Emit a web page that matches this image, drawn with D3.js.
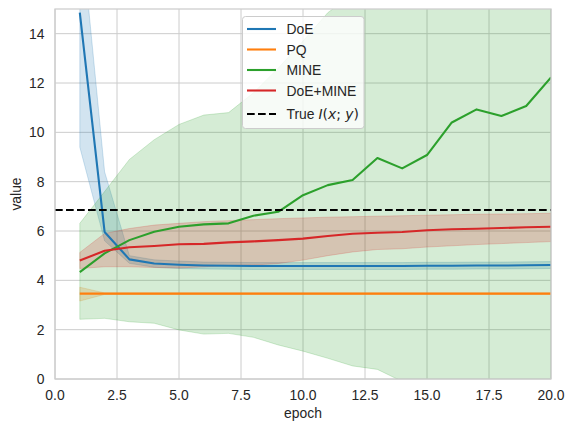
<!DOCTYPE html>
<html>
<head>
<meta charset="utf-8">
<script src="https://cdn.jsdelivr.net/npm/d3@7"></script>
<style>
  body { margin: 0; background: #fff; }
  svg text { font-family: "Liberation Sans", Arial, sans-serif; fill: #262626; }
</style>
</head>
<body>
<div id="chart"></div>
<script>
// epochs 1..20
const epochs = d3.range(1, 21);

const doeMean = [14.85, 5.96, 4.85, 4.68, 4.63, 4.60, 4.59, 4.58, 4.58, 4.58, 4.58, 4.58, 4.58, 4.58, 4.59, 4.59, 4.60, 4.60, 4.61, 4.62];
const doeLow  = [9.40, 5.60, 4.69, 4.53, 4.48, 4.46, 4.45, 4.44, 4.44, 4.44, 4.44, 4.44, 4.44, 4.44, 4.45, 4.45, 4.46, 4.46, 4.47, 4.48];
const doeHigh = [18.7, 8.40, 5.00, 4.83, 4.78, 4.74, 4.73, 4.72, 4.72, 4.72, 4.72, 4.72, 4.72, 4.72, 4.73, 4.73, 4.74, 4.74, 4.75, 4.76];

const pqMean = [3.46, 3.46, 3.46, 3.46, 3.46, 3.46, 3.46, 3.46, 3.46, 3.46, 3.46, 3.46, 3.46, 3.46, 3.46, 3.46, 3.46, 3.46, 3.46, 3.46];
const pqLow  = [3.16, 3.43, 3.43, 3.43, 3.43, 3.43, 3.43, 3.43, 3.43, 3.43, 3.43, 3.43, 3.43, 3.43, 3.43, 3.43, 3.43, 3.43, 3.43, 3.43];
const pqHigh = [3.72, 3.49, 3.49, 3.49, 3.49, 3.49, 3.49, 3.49, 3.49, 3.49, 3.49, 3.49, 3.49, 3.49, 3.49, 3.49, 3.49, 3.49, 3.49, 3.49];

const mineMean = [4.33, 5.09, 5.63, 5.97, 6.17, 6.27, 6.31, 6.62, 6.78, 7.45, 7.86, 8.07, 8.96, 8.54, 9.08, 10.40, 10.93, 10.66, 11.07, 12.23];
const mineLow  = [2.42, 2.46, 2.32, 2.26, 1.99, 1.82, 1.85, 1.69, 1.38, 1.13, 0.84, 0.53, 0.39, -0.10, -0.60, -0.90, -1.20, -1.50, -1.80, -2.00];
const mineHigh = [6.31, 7.60, 8.90, 9.70, 10.32, 10.70, 10.80, 11.60, 12.60, 13.70, 14.85, 15.60, 17.50, 17.20, 18.80, 21.70, 23.00, 22.80, 23.90, 26.40];

const comboMean = [4.80, 5.20, 5.34, 5.39, 5.46, 5.48, 5.54, 5.58, 5.63, 5.69, 5.80, 5.89, 5.93, 5.96, 6.03, 6.07, 6.09, 6.12, 6.15, 6.17];
const comboLow  = [4.48, 4.55, 4.55, 4.52, 4.50, 4.55, 4.60, 4.62, 4.68, 4.82, 5.00, 5.15, 5.25, 5.28, 5.35, 5.40, 5.45, 5.49, 5.53, 5.57];
const comboHigh = [5.13, 5.90, 6.10, 6.24, 6.31, 6.38, 6.42, 6.46, 6.50, 6.53, 6.56, 6.58, 6.60, 6.62, 6.64, 6.66, 6.68, 6.69, 6.70, 6.72];

const trueMI = 6.85;

const xTicks = [0, 2.5, 5, 7.5, 10, 12.5, 15, 17.5, 20];
const yTicks = [0, 2, 4, 6, 8, 10, 12, 14];

const series = [
  {name: 'DoE',      color: '#1f77b4', mean: doeMean,   low: doeLow,   high: doeHigh},
  {name: 'PQ',       color: '#ff7f0e', mean: pqMean,    low: pqLow,    high: pqHigh},
  {name: 'MINE',     color: '#2ca02c', mean: mineMean,  low: mineLow,  high: mineHigh},
  {name: 'DoE+MINE', color: '#d62728', mean: comboMean, low: comboLow, high: comboHigh}
];

const width = 574, height = 432;
const margin = {top: 9, right: 23, bottom: 53, left: 55};
const w = width - margin.left - margin.right;
const h = height - margin.top - margin.bottom;

const svg = d3.select('#chart').append('svg')
  .attr('width', width)
  .attr('height', height);

const g = svg.append('g')
  .attr('transform', `translate(${margin.left},${margin.top})`);

const x = d3.scaleLinear().domain([0, 20]).range([0, w]);
const y = d3.scaleLinear().domain([0, 15]).range([h, 0]);

g.append('clipPath').attr('id', 'clip')
  .append('rect').attr('width', w).attr('height', h);

// grid
g.selectAll('.xgrid').data(xTicks).enter().append('line')
  .attr('x1', d => x(d)).attr('x2', d => x(d))
  .attr('y1', 0).attr('y2', h)
  .attr('stroke', '#cccccc').attr('stroke-width', 1);
g.selectAll('.ygrid').data(yTicks).enter().append('line')
  .attr('x1', 0).attr('x2', w)
  .attr('y1', d => y(d)).attr('y2', d => y(d))
  .attr('stroke', '#cccccc').attr('stroke-width', 1);

const plot = g.append('g').attr('clip-path', 'url(#clip)');

const area = d3.area()
  .x((d, i) => x(epochs[i]))
  .y0(d => y(d[0]))
  .y1(d => y(d[1]));

const line = d3.line()
  .x((d, i) => x(epochs[i]))
  .y(d => y(d));

// confidence bands
series.forEach(s => {
  plot.append('path')
    .datum(s.low.map((v, i) => [v, s.high[i]]))
    .attr('d', area)
    .attr('fill', s.color)
    .attr('fill-opacity', 0.2)
    .attr('stroke', s.color)
    .attr('stroke-opacity', 0.2)
    .attr('stroke-width', 1);
});

// mean lines
series.forEach(s => {
  plot.append('path')
    .datum(s.mean)
    .attr('d', line)
    .attr('fill', 'none')
    .attr('stroke', s.color)
    .attr('stroke-width', 2.1)
    .attr('stroke-linejoin', 'round');
});

// true MI
plot.append('line')
  .attr('x1', 0).attr('x2', w)
  .attr('y1', y(trueMI)).attr('y2', y(trueMI))
  .attr('stroke', '#000')
  .attr('stroke-width', 2.1)
  .attr('stroke-dasharray', '7.7,3.3');

// spines
g.append('rect')
  .attr('width', w).attr('height', h)
  .attr('fill', 'none')
  .attr('stroke', '#cccccc')
  .attr('stroke-width', 1.25);

// tick labels
g.selectAll('.xlab').data(xTicks).enter().append('text')
  .attr('x', d => x(d))
  .attr('y', h + 21)
  .attr('text-anchor', 'middle')
  .style('font-size', '13.9px')
  .text(d => d.toFixed(1));

g.selectAll('.ylab').data(yTicks).enter().append('text')
  .attr('x', -10.5)
  .attr('y', d => y(d) + 5)
  .attr('text-anchor', 'end')
  .style('font-size', '13.9px')
  .text(d => d);

// axis titles
g.append('text')
  .attr('x', w / 2)
  .attr('y', h + 39)
  .attr('text-anchor', 'middle')
  .style('font-size', '13.9px')
  .text('epoch');

g.append('text')
  .attr('transform', `translate(${-34},${h / 2}) rotate(-90)`)
  .attr('text-anchor', 'middle')
  .style('font-size', '13.9px')
  .text('value');

// legend
const legend = svg.append('g').attr('transform', 'translate(242.5,16.5)');
legend.append('rect')
  .attr('width', 121.5).attr('height', 112)
  .attr('rx', 3)
  .attr('fill', '#fff').attr('fill-opacity', 0.8)
  .attr('stroke', '#cccccc').attr('stroke-width', 1);

const rows = [12.5, 33, 53.5, 74, 97.5];
series.forEach((s, i) => {
  legend.append('line')
    .attr('x1', 4.5).attr('x2', 33.5)
    .attr('y1', rows[i]).attr('y2', rows[i])
    .attr('stroke', s.color).attr('stroke-width', 2.1);
  legend.append('text')
    .attr('x', 44).attr('y', rows[i] + 5)
    .style('font-size', '13.9px')
    .text(s.name);
});
legend.append('line')
  .attr('x1', 4.5).attr('x2', 33.5)
  .attr('y1', rows[4]).attr('y2', rows[4])
  .attr('stroke', '#000').attr('stroke-width', 2.1)
  .attr('stroke-dasharray', '7.7,3.3');
const trueLabel = legend.append('text')
  .attr('x', 44).attr('y', rows[4] + 5)
  .style('font-size', '13.9px');
trueLabel.append('tspan').text('True ');
trueLabel.append('tspan').style('font-family', 'DejaVu Sans').style('font-style', 'italic').text('I');
trueLabel.append('tspan').style('font-family', 'DejaVu Sans').text('(');
trueLabel.append('tspan').style('font-family', 'DejaVu Sans').style('font-style', 'italic').text('x');
trueLabel.append('tspan').style('font-family', 'DejaVu Sans').text('; ');
trueLabel.append('tspan').style('font-family', 'DejaVu Sans').style('font-style', 'italic').text('y');
trueLabel.append('tspan').style('font-family', 'DejaVu Sans').text(')');
</script>
</body>
</html>
